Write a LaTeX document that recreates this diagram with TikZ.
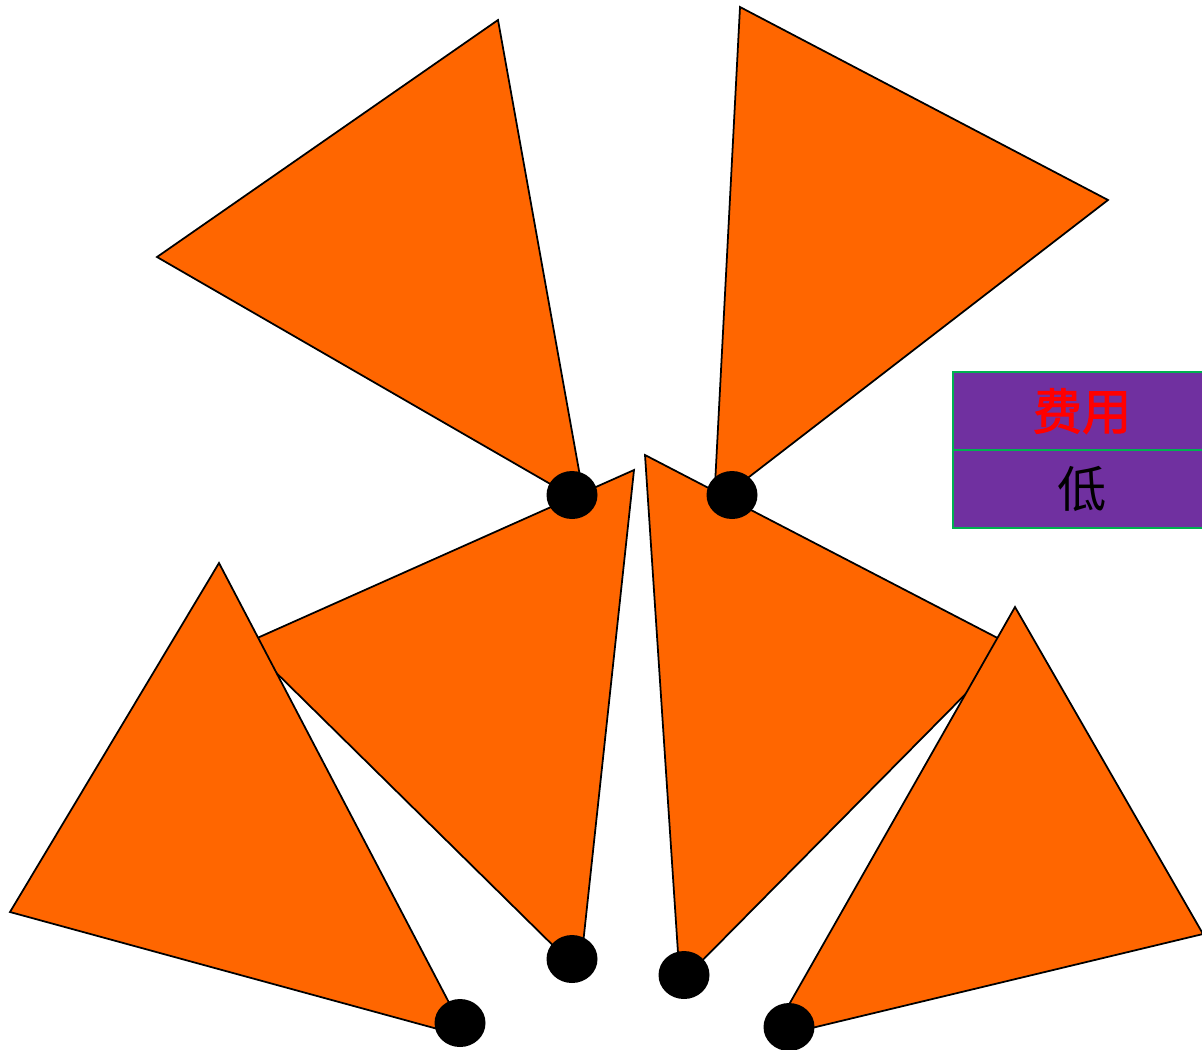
\documentclass[tikz,border=0pt]{standalone}
\usepackage{fontspec}
\newfontfamily\cjk{Noto Sans CJK SC}
\newfontfamily\cjkbf[FakeBold=2]{Noto Sans CJK SC}
\usetikzlibrary{shapes.geometric}
\definecolor{petalorange}{HTML}{FF6600}
\definecolor{cellpurple}{HTML}{7030A0}
\definecolor{cellgreen}{HTML}{00B050}
\tikzset{
  petal/.style={draw=black,fill=petalorange,line width=1pt},
  dot/.style={ellipse,fill=black,inner sep=0pt,minimum width=1.02cm,minimum height=0.96cm},
  cell/.style={draw=cellgreen,fill=cellpurple,line width=1.2pt,minimum width=5.16cm,minimum height=1.56cm,inner sep=0pt,font=\fontsize{28}{30}\selectfont},
}

\begin{document}
\begin{tikzpicture}[x=0.02cm,y=-0.02cm]
\useasboundingbox (0,0) rectangle (1202,1049);
% upper pair
\draw[petal] (157,257) -- (498,20) -- (585,504) -- cycle;
\draw[petal] (740,7) -- (1108,200) -- (714,504) -- cycle;
% middle pair
\draw[petal] (634,470) -- (246,643) -- (580,972) -- cycle;
\draw[petal] (645,455) -- (1013,646) -- (680,983) -- cycle;
% lower pair
\draw[petal] (219,563) -- (10,912) -- (467,1037) -- cycle;
\draw[petal] (1015,607) -- (1203,934) -- (770,1038) -- cycle;
% pivots
\node[dot] (p1) at (572,495) {};
\node[dot] (p2) at (732,495) {};
\node[dot] (p3) at (572,959) {};
\node[dot] (p4) at (684,975) {};
\node[dot] (p5) at (460,1023) {};
\node[dot] (p6) at (789,1027) {};
% legend
\node[cell,text=red] (cost) at (1082,411) {\cjkbf 费用};
\node[cell] (low) at (1082,489) {\cjk 低};
\end{tikzpicture}
\end{document}
